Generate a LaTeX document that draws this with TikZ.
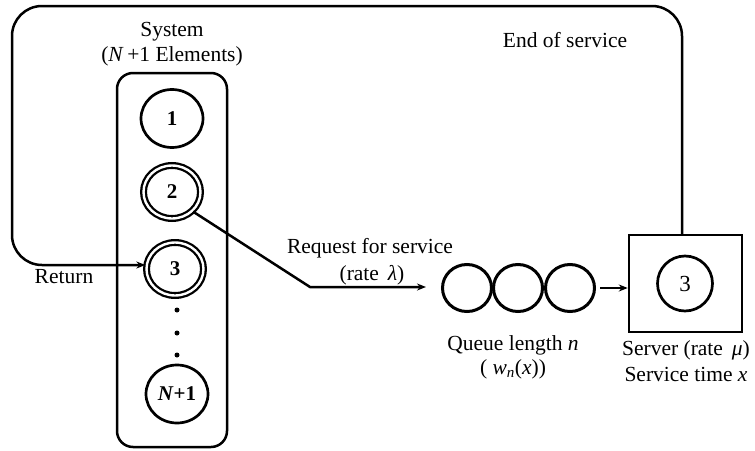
\documentclass[tikz,border=0pt]{standalone}
\usepackage{fontspec}
\setmainfont{Liberation Serif}
\usetikzlibrary{arrows.meta,shapes.geometric}

\tikzset{
  conn/.style={line width=2.5pt, line join=round},
  arr/.style={conn, -{Stealth[length=9pt,width=7pt]}},
  elem/.style={ellipse, draw, line width=2.7pt, minimum width=62pt, minimum height=58pt,
               inner sep=0pt, font=\fontsize{21}{23}\selectfont\bfseries},
  elemdbl/.style={elem, double, double distance=2.4pt, line width=2.3pt,
                  minimum width=57pt, minimum height=53pt},
  qcirc/.style={ellipse, draw, line width=3pt, minimum width=49pt, minimum height=47pt, inner sep=0pt},
  lbl/.style={font=\fontsize{21.5}{23}\selectfont, inner sep=0pt, anchor=center},
  dotmark/.style={circle, fill, inner sep=0pt, minimum size=5pt}
}

\begin{document}
\begin{tikzpicture}[x=1pt, y=-1pt]
  \useasboundingbox (0,0) rectangle (755,450);

  % system container
  \node[draw, line width=2.5pt, rounded corners=16pt, minimum width=110pt, minimum height=374pt,
        inner sep=0pt] (sys) at (172,260) {};
  \node[lbl] (systitle) at (172,32) {System};
  \node[lbl] (syssub) at (172,56) {(\textit{N}\,+1 Elements)};

  % elements
  \node[elem] (e1) at (172,118.5) {1};
  \node[elemdbl] (e2) at (172,192) {2};
  \node[elemdbl] (e3) at (175,269) {3};
  \node[dotmark] (d1) at (177,310) {};
  \node[dotmark] (d2) at (177,333) {};
  \node[dotmark] (d3) at (177,355) {};
  \node[elem] (eN) at (177,394) {\textit{N}+1};

  % queue
  \node[qcirc] (q1) at (467,288) {};
  \node[qcirc] (q2) at (518,288) {};
  \node[qcirc] (q3) at (570,288) {};

  % server
  \node[draw, line width=2.5pt, minimum width=113pt, minimum height=97pt, inner sep=0pt]
        (srv) at (685.5,283.5) {};
  \node[circle, draw, line width=2.7pt, minimum size=55pt, inner sep=0pt,
        font=\fontsize{23}{25}\selectfont] (sc) at (685,283.5) {3};

  % request path
  \coordinate (bend) at (310,287);
  \draw[arr, shorten >=15pt] (e2.south east) -- (bend) -- (bend -| q1.west);

  % queue to server
  \draw[arr, shorten <=4pt] (q3.east) -- (q3.east -| srv.west);

  % feedback loop: end of service back to the system
  \coordinate (tr) at (682,6);
  \coordinate (tl) at (12,6);
  \coordinate (bl) at (12,265);
  \coordinate (ein) at (e3.west |- bl);
  \draw[arr, rounded corners=30pt] (srv.north -| tr) -- (tr) -- (tl) -- (bl) -- (ein);

  % labels
  \node[lbl] (eos) at (565,40) {End of service};
  \node[lbl] (ret) at (64,277) {Return};
  \node[lbl] (req1) at (370,248) {Request for service};
  \node[lbl] (req2) at (372,275) {(rate \,\textit{λ})};
  \node[lbl] (ql1) at (513,345) {Queue length \textit{n}};
  \node[lbl] (ql2) at (513,369) {( \textit{w}\textsubscript{\textit{n}}(\textit{x}))};
  \node[lbl] (sv1) at (686,350) {Server (rate \,\textit{μ})};
  \node[lbl] (sv2) at (686,374) {Service time \textit{x}};
\end{tikzpicture}
\end{document}
